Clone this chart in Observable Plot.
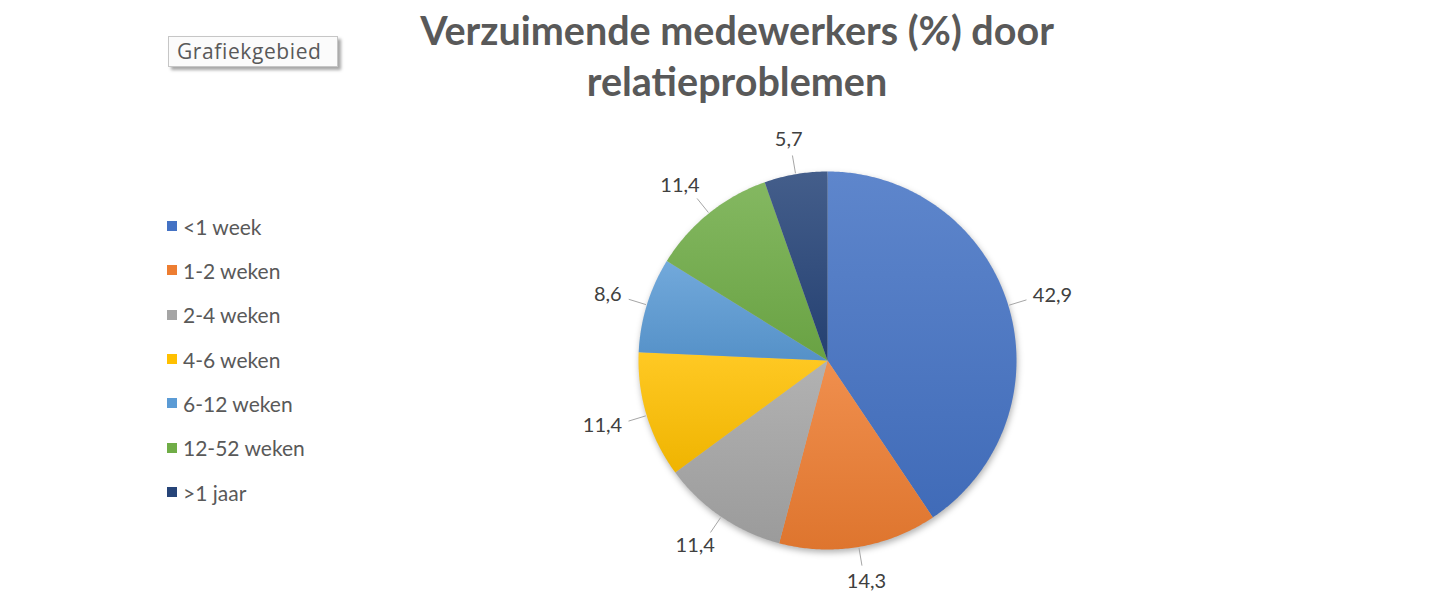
<!DOCTYPE html>
<html><head><meta charset="utf-8">
<script src="https://cdn.jsdelivr.net/npm/d3@7"></script>
<script src="https://cdn.jsdelivr.net/npm/@observablehq/plot@0.6"></script>
<style>
body{margin:0;background:#fff;}
#wrap{position:relative;width:1440px;height:600px;overflow:hidden;font-family:Lato,sans-serif;}
#plot{position:absolute;left:0;top:0;}
#title{position:absolute;left:337px;width:800px;top:4px;text-align:center;font-family:Lato,sans-serif;font-weight:bold;font-size:39.5px;line-height:51px;color:#595959;}
#tip{position:absolute;left:168px;top:36px;width:170px;height:31px;box-sizing:border-box;padding:0 0 0 8px;border:1px solid #c6c6c6;background:#fbfbfb;box-shadow:3px 3px 3px rgba(0,0,0,0.35);font-family:"Open Sans",sans-serif;font-size:21px;letter-spacing:0.6px;line-height:28px;color:#595959;white-space:nowrap;}
.lg{position:absolute;left:167px;height:24px;display:flex;align-items:center;font-size:21px;color:#595959;}
.lg span.sw{display:inline-block;width:10px;height:10px;margin-right:6px;}
</style></head><body>
<div id="wrap">
 <div id="plot"></div>
 <div id="title">Verzuimende medewerkers (%) door<br>relatieproblemen</div>
 <div id="tip">Grafiekgebied</div>
 <div id="legend"></div>
</div>
<script>
const categories = ["<1 week","1-2 weken","2-4 weken","4-6 weken","6-12 weken","12-52 weken",">1 jaar"];
const values = [42.9,14.3,11.4,11.4,8.6,11.4,5.7];
const colors = ["#4472C4","#ED7D31","#A5A5A5","#FFC000","#5B9BD5","#70AD47","#264478"];

const fmt = v => d3.format(".1f")(v).replace(".", ",");
const W = 1440, H = 600, R = 189, cx = 827, cy = 360;
const GAP = 25, HALF_H = 10, CHAR_W = 5.3;

const arcs = d3.pie().sort(null).value(d => d)(values);
const pts = [];
arcs.forEach((a, i) => {
  pts.push({i, x: 0, y: 0});
  const n = Math.max(2, Math.ceil((a.endAngle - a.startAngle) / 0.01));
  for (let k = 0; k <= n; k++) {
    const t = a.startAngle + (a.endAngle - a.startAngle) * k / n;
    pts.push({i, x: Math.sin(t), y: Math.cos(t)});
  }
});
const mids = arcs.map((a, i) => ({i, m: (a.startAngle + a.endAngle) / 2, v: values[i], text: fmt(values[i])}));
const leaders = mids.map(d => {
  const r2 = (R + GAP - 6) / R;
  return {x1: 1.005 * Math.sin(d.m), y1: 1.005 * Math.cos(d.m), x2: r2 * Math.sin(d.m), y2: r2 * Math.cos(d.m)};
});
const lbls = mids.map(d => {
  const w = CHAR_W * d.text.length;
  const s = Math.sin(d.m), c = Math.cos(d.m);
  return {x: ((R + GAP) * s + w * s) / R, y: ((R + GAP) * c + HALF_H * c) / R, text: d.text};
});

const plot = Plot.plot({
  width: W, height: H, margin: 0,
  style: {fontFamily: "Lato, sans-serif", background: "transparent"},
  x: {domain: [-cx / R, (W - cx) / R], axis: null},
  y: {domain: [-(H - cy) / R, cy / R], axis: null},
  color: {type: "identity"},
  marks: [
    Plot.line(pts, {x: "x", y: "y", z: "i", fill: d => `url(#grad${d.i})`, stroke: "none", curve: "linear-closed"}),
    Plot.link(leaders, {x1: "x1", y1: "y1", x2: "x2", y2: "y2", stroke: "#a6a6a6", strokeWidth: 1}),
    Plot.text(lbls, {x: "x", y: "y", text: "text", fontSize: 20, fill: "#404040"})
  ]
});
const svg = d3.select(plot);
const defs = svg.insert("defs", ":first-child");
colors.forEach((c, i) => {
  const g = defs.append("linearGradient").attr("id", "grad" + i).attr("x1", 0).attr("y1", 0).attr("x2", 0).attr("y2", 1);
  g.append("stop").attr("offset", "0%").attr("stop-color", d3.interpolateRgb(c, "#ffffff")(0.14));
  g.append("stop").attr("offset", "100%").attr("stop-color", d3.color(c).darker(0.18).formatHex());
});
svg.select('g[aria-label="line"]').style("filter", "drop-shadow(1px 3px 3px rgba(0,0,0,0.3))");
document.getElementById("plot").append(plot);

const legend = d3.select("#legend");
const rowY = d3.scalePoint().domain(categories).range([226, 492]);
categories.forEach((c, i) => {
  const row = legend.append("div").attr("class", "lg").style("top", (rowY(c) - 12) + "px");
  row.append("span").attr("class", "sw").style("background", colors[i]);
  row.append("span").text(c);
});
</script>
</body></html>
